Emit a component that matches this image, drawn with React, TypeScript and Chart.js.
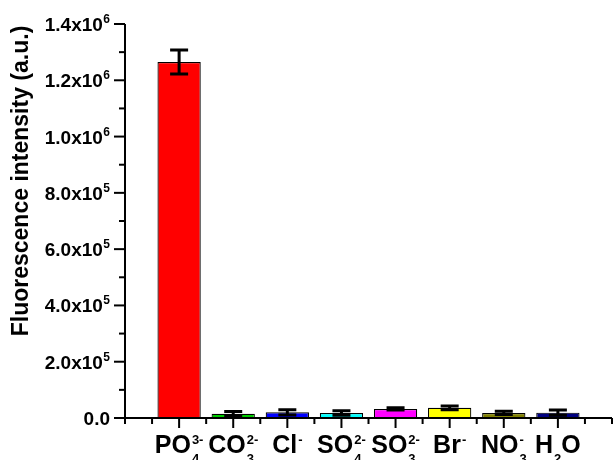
import React, { useEffect, useRef } from 'react';
import { Chart, registerables } from 'chart.js';

Chart.register(...registerables);

// ---- data ----
const positions = [1, 2, 3, 4, 5, 6, 7, 8];
const labelMain = ['PO', 'CO', 'Cl', 'SO', 'SO', 'Br', 'NO', 'H'];
const labelSub = ['4', '3', '', '4', '3', '', '3', '2'];
const labelSup = ['3-', '2-', '-', '2-', '2-', '-', '-', ''];
const labelTail = ['', '', '', '', '', '', '', 'O'];
const values = [1265000, 15000, 20000, 18000, 32000, 36000, 18000, 19000];
const errors = [43000, 8000, 9000, 8000, 4000, 7000, 6000, 9000];
const colors = ['#ff0000', '#00cc00', '#0000ff', '#00ffff', '#ff00ff', '#ffff00', '#808000', '#000080'];
const yTickValues = [0, 200000, 400000, 600000, 800000, 1000000, 1200000, 1400000];
const yTickMantissa = ['0.0', '2.0', '4.0', '6.0', '8.0', '1.0', '1.2', '1.4'];
const yTickExponent = ['', '5', '5', '5', '5', '6', '6', '6'];
const yTitle = 'Fluorescence intensity (a.u.)';

const X_MIN = 0;
const X_MAX = 9;
const Y_MAX = 1400000;
const FONT = '"Liberation Sans", Arial, sans-serif';

const overlay = {
  id: 'overlay',
  afterDatasetsDraw(chart: any) {
    const ctx: CanvasRenderingContext2D = chart.ctx;
    const xs = chart.scales.x;
    const ys = chart.scales.y;
    ctx.save();
    ctx.strokeStyle = '#000';
    ctx.fillStyle = '#000';

    // error bars
    ctx.lineWidth = 3;
    positions.forEach((p, i) => {
      const x = xs.getPixelForValue(p);
      const yt = ys.getPixelForValue(values[i] + errors[i]);
      const yb = ys.getPixelForValue(values[i] - errors[i]);
      ctx.beginPath();
      ctx.moveTo(x, yt);
      ctx.lineTo(x, yb);
      ctx.moveTo(x - 9, yt);
      ctx.lineTo(x + 9, yt);
      ctx.moveTo(x - 9, yb);
      ctx.lineTo(x + 9, yb);
      ctx.stroke();
    });

    // axes lines
    const x0 = xs.getPixelForValue(X_MIN);
    const x1 = xs.getPixelForValue(X_MAX);
    const y0 = ys.getPixelForValue(0);
    const y1 = ys.getPixelForValue(Y_MAX);
    ctx.lineWidth = 2;
    ctx.beginPath();
    ctx.moveTo(x0, y1);
    ctx.lineTo(x0, y0);
    ctx.lineTo(x1, y0);
    ctx.stroke();

    // y ticks
    for (let k = 0; k <= 14; k++) {
      const y = ys.getPixelForValue(k * 100000);
      const len = k % 2 === 0 ? 11 : 6;
      ctx.beginPath();
      ctx.moveTo(x0, y);
      ctx.lineTo(x0 - len, y);
      ctx.stroke();
    }
    // x ticks
    for (let k = 0; k <= 18; k++) {
      const v = k * 0.5;
      const x = xs.getPixelForValue(v);
      const major = k % 2 === 0 && v >= 1 && v <= 8;
      const len = major ? 10 : 6;
      ctx.beginPath();
      ctx.moveTo(x, y0);
      ctx.lineTo(x, y0 + len);
      ctx.stroke();
    }

    // y tick labels
    ctx.textBaseline = 'alphabetic';
    yTickValues.forEach((v, i) => {
      const y = ys.getPixelForValue(v);
      const main = yTickExponent[i] ? yTickMantissa[i] + 'x10' : yTickMantissa[i];
      ctx.font = 'bold 19px ' + FONT;
      const mw = ctx.measureText(main).width;
      ctx.font = 'bold 12px ' + FONT;
      const ew = yTickExponent[i] ? ctx.measureText(yTickExponent[i]).width + 0.5 : 0;
      const right = x0 - 15;
      const start = right - mw - ew;
      ctx.font = 'bold 19px ' + FONT;
      ctx.textAlign = 'left';
      ctx.fillText(main, start, y + 7);
      if (yTickExponent[i]) {
        ctx.font = 'bold 12px ' + FONT;
        ctx.fillText(yTickExponent[i], start + mw + 0.5, y - 1);
      }
    });

    // x tick labels
    positions.forEach((p, i) => {
      const cx = xs.getPixelForValue(p);
      const base = y0 + 35;
      ctx.font = 'bold 25px ' + FONT;
      const mw = ctx.measureText(labelMain[i]).width;
      const tw = labelTail[i] ? ctx.measureText(labelTail[i]).width : 0;
      ctx.font = 'bold 13px ' + FONT;
      const sw = Math.max(
        labelSub[i] ? ctx.measureText(labelSub[i]).width : 0,
        labelSup[i] ? ctx.measureText(labelSup[i]).width : 0
      );
      const total = mw + sw + 1 + tw;
      let x = cx - total / 2;
      ctx.textAlign = 'left';
      ctx.font = 'bold 25px ' + FONT;
      ctx.fillText(labelMain[i], x, base);
      x += mw + 1;
      ctx.font = 'bold 13px ' + FONT;
      if (labelSup[i]) ctx.fillText(labelSup[i], x, base - 9);
      if (labelSub[i]) ctx.fillText(labelSub[i], x, base + 10);
      x += sw;
      if (labelTail[i]) {
        ctx.font = 'bold 25px ' + FONT;
        ctx.fillText(labelTail[i], x, base);
      }
    });

    // y title
    ctx.save();
    ctx.translate(22, 181);
    ctx.rotate(-Math.PI / 2);
    ctx.font = 'bold 23px ' + FONT;
    ctx.textAlign = 'center';
    ctx.textBaseline = 'middle';
    ctx.fillText(yTitle, 0, 0);
    ctx.restore();

    ctx.restore();
  },
};

export default function App() {
  const ref = useRef<HTMLCanvasElement>(null);
  useEffect(() => {
    if (!ref.current) return;
    const chart = new Chart(ref.current, {
      type: 'bar',
      data: {
        datasets: [
          {
            data: positions.map((p, i) => ({ x: p, y: values[i] })),
            backgroundColor: colors,
            borderColor: '#000',
            borderWidth: 1.2,
            barPercentage: 0.8,
            categoryPercentage: 1,
          },
        ],
      },
      options: {
        responsive: false,
        animation: false,
        layout: { padding: { top: 24, right: 2, left: 0, bottom: 0 } },
        plugins: { legend: { display: false }, tooltip: { enabled: false } },
        scales: {
          x: {
            type: 'linear',
            min: X_MIN,
            max: X_MAX,
            offset: false,
            grid: { display: false },
            border: { display: false },
            ticks: { display: false },
            afterFit: (s: any) => {
              s.height = 42;
            },
          },
          y: {
            type: 'linear',
            min: 0,
            max: Y_MAX,
            grid: { display: false },
            border: { display: false },
            ticks: { display: false },
            afterFit: (s: any) => {
              s.width = 125;
            },
          },
        },
      },
      plugins: [overlay],
    });
    return () => chart.destroy();
  }, []);
  return (
    <div style={{ position: 'fixed', left: 0, top: 0, width: 614, height: 460, background: '#fff' }}>
      <canvas ref={ref} width={614} height={460} style={{ display: 'block' }} />
    </div>
  );
}
